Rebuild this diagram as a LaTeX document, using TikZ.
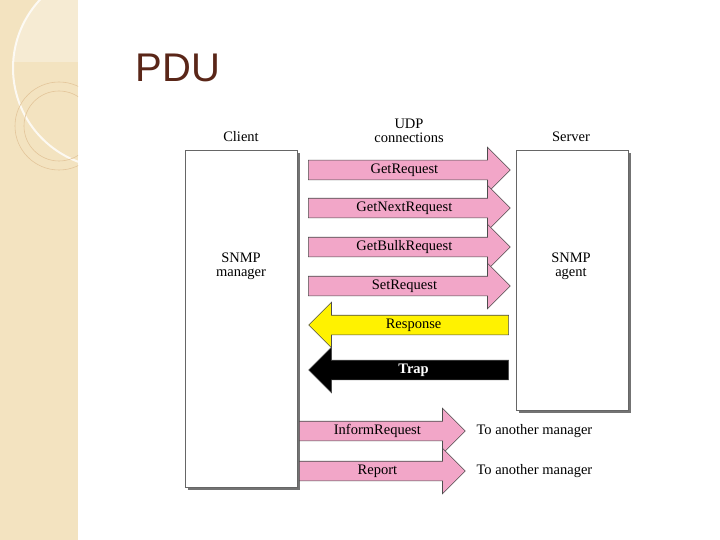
\documentclass[tikz,border=0pt]{standalone}
\usepackage{fontspec}
\setmainfont{Liberation Serif}
\newfontfamily\titlefont{Liberation Sans}
\usetikzlibrary{shapes.arrows}
\definecolor{beige}{HTML}{F3E3C0}
\definecolor{pinkA}{HTML}{F2A6C8}
\definecolor{titlebrown}{HTML}{5A2618}
\begin{document}
\begin{tikzpicture}[x=1pt,y=-1pt,
  arr/.style={shape=single arrow, draw=black!70, line width=0.6pt, fill=pinkA,
    text height=10pt, text depth=3pt, inner ysep=3pt, inner xsep=2pt,
    single arrow head extend=13pt, single arrow head indent=0pt,
    font=\fontsize{14.5}{15}\selectfont, anchor=west},
  lab/.style={font=\fontsize{14.5}{14}\selectfont, align=center},
  box/.style={draw=black!60, line width=0.8pt, fill=white}]
\useasboundingbox (0,0) rectangle (720,540);
\fill[white] (0,0) rectangle (720,540);
% left decorative strip
\begin{scope}
\clip (0,0) rectangle (78,540);
\fill[beige] (0,0) rectangle (78,540);
\begin{scope}
\clip (113,68) circle (100);
\fill[white,opacity=0.3] (0,0) rectangle (78,62);
\end{scope}
\draw[white,line width=2pt,opacity=0.8] (113,68) circle (100);
\draw[beige!70!brown,line width=0.6pt] (59,126) circle (44);
\draw[beige!70!brown,line width=0.6pt] (59,126) circle (35);
\end{scope}
\node[font=\titlefont\fontsize{40}{40}\selectfont, text=titlebrown] (title) at (178,68) {PDU};
% boxes
\fill[black!55] (188,153) rectangle (300,490);
\draw[box] (185,150) rectangle (297,487);
\fill[black!55] (519,153) rectangle (631,413);
\draw[box] (516,150) rectangle (628,410);
\node[lab] (client) at (241,137) {Client};
\node[lab] (server) at (571,137) {Server};
\node[lab, inner sep=0pt] (udp) at (409,131) {UDP\\connections};
\node[lab] (mgr) at (241,266) {SNMP\\manager};
\node[lab] (agt) at (571,266) {SNMP\\agent};
% arrows
\node[arr, minimum height=202pt] (a1) at (308,170) {\hspace*{2.6em}GetRequest\hspace*{2.6em}};
\node[arr, minimum height=202pt] (a2) at (308,208) {\hspace*{1.2em}GetNextRequest\hspace*{1.2em}};
\node[arr, minimum height=202pt] (a3) at (308,247) {\hspace*{1.2em}GetBulkRequest\hspace*{1.2em}};
\node[arr, minimum height=202pt] (a4) at (308,286) {\hspace*{2.6em}SetRequest\hspace*{2.6em}};
\node[arr, fill=yellow, shape border rotate=180, anchor=east, minimum height=200pt] (a5) at (509,325) {Response};
\node[arr, fill=black, text=white, shape border rotate=180, anchor=east, minimum height=200pt, font=\fontsize{14.5}{15}\selectfont\bfseries] (a6) at (509,370) {Trap};
\node[arr, minimum height=166pt] (a7) at (299,431) {\hspace*{1em}InformRequest\hspace*{1em}};
\node[arr, minimum height=166pt] (a8) at (299,471) {Report};
\node[lab, anchor=west] (t1) at (473,431) {To another manager};
\node[lab, anchor=west] (t2) at (473,471) {To another manager};
\end{tikzpicture}
\end{document}
